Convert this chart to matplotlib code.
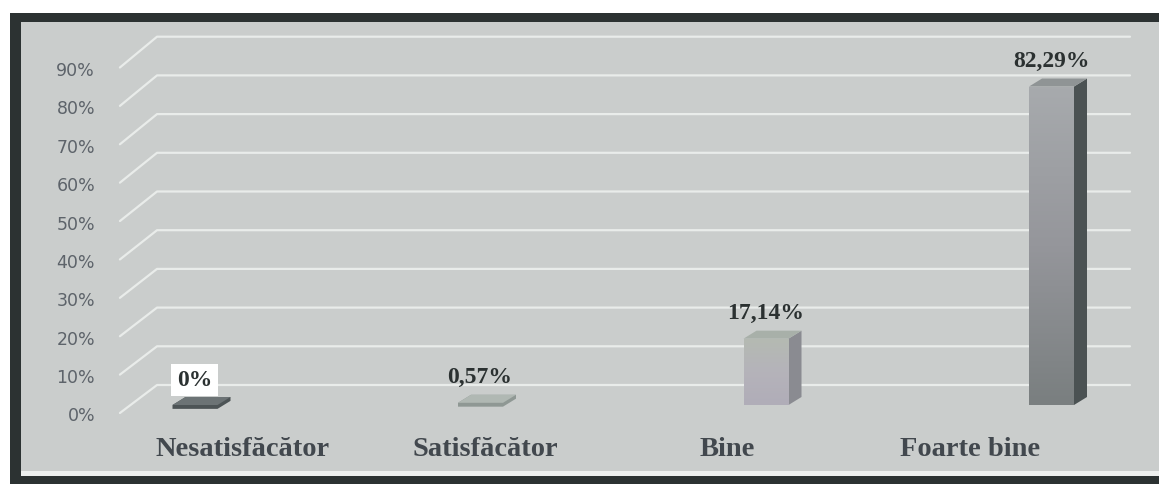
import matplotlib
matplotlib.use('Agg')
import matplotlib.pyplot as plt
from matplotlib.patches import Rectangle, Polygon
from matplotlib.colors import LinearSegmentedColormap
import numpy as np

# ---- data ----
categories = ['Nesatisfăcător', 'Satisfăcător', 'Bine', 'Foarte bine']
values = [0.0, 0.57, 17.14, 82.29]
value_labels = ['0%', '0,57%', '17,14%', '82,29%']
y_ticks = [0, 10, 20, 30, 40, 50, 60, 70, 80, 90]
y_tick_labels = ['0%', '10%', '20%', '30%', '40%', '50%', '60%', '70%', '80%', '90%']

# ---- styling ----
front_colors = ['#5f6668', '#a3aca8', '#b5b3ba', '#95969b']
front_colors_top = ['#5f6668', '#a3aca8', '#b4bab2', '#a7aaad']
front_colors_bot = ['#5f6668', '#a3aca8', '#b0adb8', '#7a7f80']
side_colors = ['#4d5456', '#8f9894', '#8a8b91', '#4b5253']
top_colors = ['#6c7375', '#b0b8b3', '#a8b0a9', '#8f9495']

W, H = 1159, 484
fig = plt.figure(figsize=(W / 100, H / 100), dpi=100)
fig.patch.set_facecolor('white')


def frect(x0, y0, x1, y1, color):
    r = Rectangle((x0 / W, 1 - y1 / H), (x1 - x0) / W, (y1 - y0) / H,
                  transform=fig.transFigure, facecolor=color, edgecolor='none', zorder=-10)
    fig.patches.append(r)


frect(10, 13, W, H, '#2c3232')
frect(21, 22, W, 476, '#eef0ef')
frect(21, 22, W, 471, '#cacdcc')

ax = fig.add_axes([0, 0, 1, 1])
ax.set_zorder(5)
ax.axis('off')
px_x = 285.5
x0px = 195
ax.set_xlim(-x0px / px_x, (W - x0px) / px_x)
py = 3.87
base = H - 405
ax.set_ylim(-base / py, (H - base) / py)

# perspective parameters (data units)
dx = 13 / px_x
dy = 8 / py
bar_w = 45 / px_x
grid_front_x, grid_back_x, grid_end_x = -0.263, -0.133, 3.275
front_off, front_scale, back_off = -2.07, 0.992, 5.17

# gridlines + tick labels
for v, lab in zip(y_ticks, y_tick_labels):
    yf = front_off + front_scale * v
    yb = back_off + v
    ax.plot([grid_front_x, grid_back_x, grid_end_x], [yf, yb, yb],
            color='#e9ecea', lw=1.6, zorder=1, solid_capstyle='round')
    ax.text(-0.35, yf - 0.9, lab, ha='right', va='center', fontsize=12.5,
            family='DejaVu Sans', color='#5d636a', zorder=2)

# bars
x = np.arange(len(categories))
bars = ax.bar(x, values, width=bar_w, color=front_colors, zorder=4, linewidth=0)
for i, (b, v) in enumerate(zip(bars, values)):
    xl = i - bar_w / 2
    xr = i + bar_w / 2
    if v > 0.6:
        grad = np.linspace(0, 1, 64).reshape(-1, 1)
        cmap = LinearSegmentedColormap.from_list(
            'g%d' % i, [front_colors_bot[i], front_colors[i], front_colors_top[i]])
        im = ax.imshow(grad, extent=(xl, xr, 0, v), origin='lower', cmap=cmap,
                       aspect='auto', zorder=4.5, interpolation='bicubic')
        im.set_clip_path(b)
        ax.add_patch(Polygon([(xr, 0), (xr + dx, dy), (xr + dx, v + dy), (xr, v)],
                             closed=True, facecolor=side_colors[i], edgecolor='none', zorder=4))
        ax.add_patch(Polygon([(xl, v), (xr, v), (xr + dx, v + dy), (xl + dx, v + dy)],
                             closed=True, facecolor=top_colors[i], edgecolor='none', zorder=5))
    else:
        th = 1.0
        ax.add_patch(Polygon([(xl, v - th), (xr, v - th), (xr + dx, v - th + dy), (xr + dx, v + dy), (xl + dx, v + dy), (xl, v)],
                             closed=True, facecolor=side_colors[i], edgecolor='none', zorder=4))
        ax.add_patch(Polygon([(xl, v), (xr, v), (xr + dx, v + dy), (xl + dx, v + dy)],
                             closed=True, facecolor=top_colors[i], edgecolor='none', zorder=5))

# value labels
for i, (v, lab) in enumerate(zip(values, value_labels)):
    kw = {}
    if i == 0:
        kw['bbox'] = dict(boxstyle='square,pad=0.25', facecolor='white', edgecolor='none')
    ax.annotate(lab, xy=(i + dx / 2, v + dy), xytext=(-7, 17), textcoords='offset pixels',
                ha='center', va='center', fontsize=17, fontweight='bold',
                family='Liberation Serif', color='#2b3131', zorder=6, **kw)

# category labels
for i, cat in enumerate(categories):
    ax.text(0.168 + 0.849 * i, -11.6, cat, ha='center', va='center', fontsize=20.5,
            fontweight='bold', family='Liberation Serif', color='#42484e', zorder=6)

fig.savefig('out.png', dpi=100, facecolor=fig.get_facecolor())
